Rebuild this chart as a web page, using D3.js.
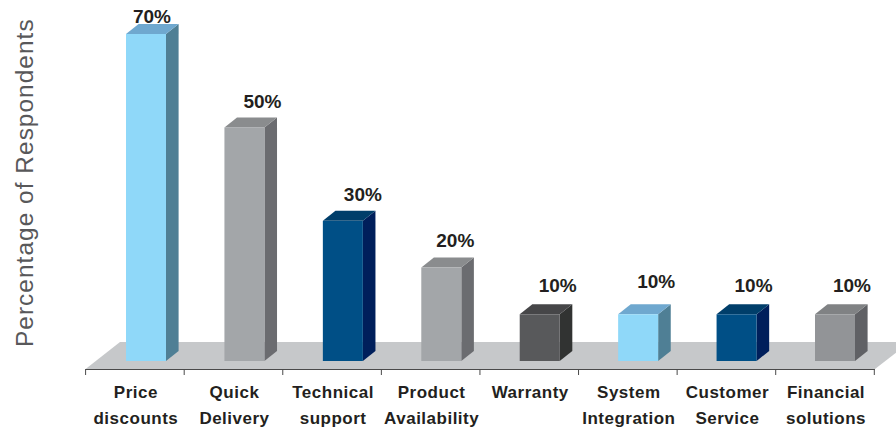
<!DOCTYPE html>
<html><head><meta charset="utf-8">
<script src="https://cdn.jsdelivr.net/npm/d3@7"></script>
<style>html,body{margin:0;padding:0;background:#fff;overflow:hidden}svg{display:block}text{font-family:"Liberation Sans",Arial,sans-serif}</style>
</head><body><svg id="c" width="896" height="431"></svg>
<script>
const categories = ["Price discounts","Quick Delivery","Technical support","Product Availability","Warranty","System Integration","Customer Service","Financial solutions"];
const categoryLine1 = ["Price","Quick","Technical","Product","Warranty","System","Customer","Financial"];
const categoryLine2 = ["discounts","Delivery","support","Availability","","Integration","Service","solutions"];
const values = [70,50,30,20,10,10,10,10];
const fronts = ["#8fd8f9","#a3a6a9","#004f86","#a3a6a9","#58595b","#8fd8f9","#004f86","#929497"];
const tops   = ["#6fa8cf","#8a8c8e","#003e6a","#8a8c8e","#464648","#6fa8cf","#003e6a","#808284"];
const sides  = ["#4f7f95","#6b6c70","#001f5b","#6b6c70","#313332","#4f7f95","#001f5b","#606165"];
const labelDx = [6,18,20,14,18,18,17,17]; // hand placement of value labels
const labelDy = [11,19,20,21,22,26,22,22];

const svg = d3.select("#c");
const x = d3.scaleBand().domain(categories).range([85.6,874.3]);
const barX = d3.scalePoint().domain(categories).range([126,815]);
const y = d3.scaleLinear().domain([0,70]).range([361,34]);
const barW = 40, dx = 12.6, dy = 10;
const poly = pts => { const p = d3.path(); pts.forEach((q,i)=> i?p.lineTo(q[0],q[1]):p.moveTo(q[0],q[1])); p.closePath(); return p.toString(); };

// floor
svg.append("path").attr("fill","#c6c8ca").attr("d",poly([[85.6,369],[120,342],[910,342],[875,369]]));

// axis
const axis = svg.append("g").attr("stroke","#4a4a4a").attr("fill","none");
axis.append("line").attr("x1",85.6).attr("x2",874.8).attr("y1",369.5).attr("y2",369.5).attr("stroke-width",1.2);
const tickVals = categories.map(c=>x(c)).concat([x.range()[1]]);
axis.selectAll("line.t").data(tickVals).join("line").attr("class","t")
  .attr("x1",d=>d).attr("x2",d=>d).attr("y1",369).attr("y2",375).attr("stroke-width",1);

// bars
const g = svg.selectAll("g.bar").data(categories).join("g").attr("class","bar");
g.append("path").attr("fill",(d,i)=>sides[i]).attr("d",(d,i)=>{const l=barX(d)+barW,t=y(values[i]);return poly([[l,t],[l+dx,t-dy],[l+dx,y(0)-dy],[l,y(0)]]);});
g.append("path").attr("fill",(d,i)=>tops[i]).attr("d",(d,i)=>{const l=barX(d),t=y(values[i]);return poly([[l,t],[l+dx,t-dy],[l+barW+dx,t-dy],[l+barW,t]]);});
g.append("rect").attr("fill",(d,i)=>fronts[i]).attr("x",d=>barX(d)).attr("width",barW).attr("y",(d,i)=>y(values[i])).attr("height",(d,i)=>y(0)-y(values[i]));

// value labels
g.append("text").attr("text-anchor","middle").attr("font-weight","700").attr("font-size",19).attr("fill","#231f20")
  .attr("x",(d,i)=>barX(d)+barW/2+labelDx[i])
  .attr("y",(d,i)=>y(values[i])-labelDy[i])
  .text((d,i)=>values[i]+"%");

// category labels
const catFont = 17;
g.append("text").attr("text-anchor","middle").attr("font-weight","700").attr("font-size",catFont).attr("letter-spacing",0.5).attr("fill","#231f20")
  .attr("x",d=>x(d)+x.bandwidth()/2+1).attr("y",398).text((d,i)=>categoryLine1[i]);
g.append("text").attr("text-anchor","middle").attr("font-weight","700").attr("font-size",catFont).attr("letter-spacing",0.5).attr("fill","#231f20")
  .attr("x",d=>x(d)+x.bandwidth()/2+1).attr("y",424).text((d,i)=>categoryLine2[i]);

// y title
svg.append("text").attr("transform","translate(33,347) rotate(-90)").attr("font-size",24.4).attr("letter-spacing",1.05).attr("fill","#58585a").text("Percentage of Respondents");
</script></body></html>
